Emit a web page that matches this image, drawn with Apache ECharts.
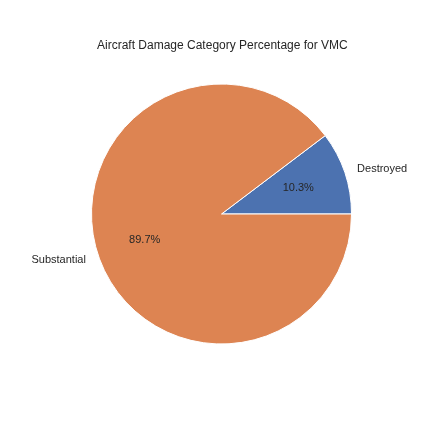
<!DOCTYPE html>
<html>
<head>
<meta charset="utf-8">
<script src="https://cdn.jsdelivr.net/npm/echarts@6/dist/echarts.min.js"></script>
<style>
  html, body { margin: 0; padding: 0; background: #ffffff; }
  #main { width: 432px; height: 432px; }
</style>
</head>
<body>
<div id="main"></div>
<script>
// damage categories and their share of VMC accidents (percent)
var categories = ['Destroyed', 'Substantial'];
var shares = [10.3, 89.7];
var colors = ['#4c72b0', '#dd8452'];

var pieData = categories.map(function (name, i) {
    return { name: name, value: shares[i], itemStyle: { color: colors[i] } };
});

var fontFamily = 'Liberation Sans, Arial, sans-serif';
var R = 130;

var myChart = echarts.init(document.getElementById('main'), null, { renderer: 'canvas' });
myChart.setOption({
    animation: false,
    title: {
        text: 'Aircraft Damage Category Percentage for VMC',
        left: 92,
        top: 35,
        textStyle: {
            fontFamily: fontFamily,
            fontSize: 12,
            fontWeight: 'normal',
            color: '#262626'
        }
    },
    series: [
        {
            // the pie itself, with the category names outside
            type: 'pie',
            center: [221.5, 214],
            radius: [0, R],
            startAngle: 0,
            clockwise: false,
            silent: true,
            data: pieData,
            itemStyle: {
                borderColor: '#ffffff',
                borderWidth: 1
            },
            label: {
                show: true,
                position: 'outside',
                formatter: '{b}',
                distanceToLabelLine: 0,
                fontFamily: fontFamily,
                fontSize: 11,
                color: '#262626'
            },
            labelLine: {
                show: false,
                length: 13,
                length2: 0
            }
        },
        {
            // transparent copy carrying the percentage labels at 0.6 r
            type: 'pie',
            center: [221.5, 214],
            radius: [R * 0.2, R],
            startAngle: 0,
            clockwise: false,
            silent: true,
            data: pieData.map(function (d) {
                return { name: d.name, value: d.value, itemStyle: { color: 'rgba(0,0,0,0)' } };
            }),
            label: {
                show: true,
                position: 'inside',
                formatter: function (p) { return p.value.toFixed(1) + '%'; },
                fontFamily: fontFamily,
                fontSize: 11,
                color: '#262626'
            },
            labelLine: { show: false }
        }
    ]
});
</script>
</body>
</html>
